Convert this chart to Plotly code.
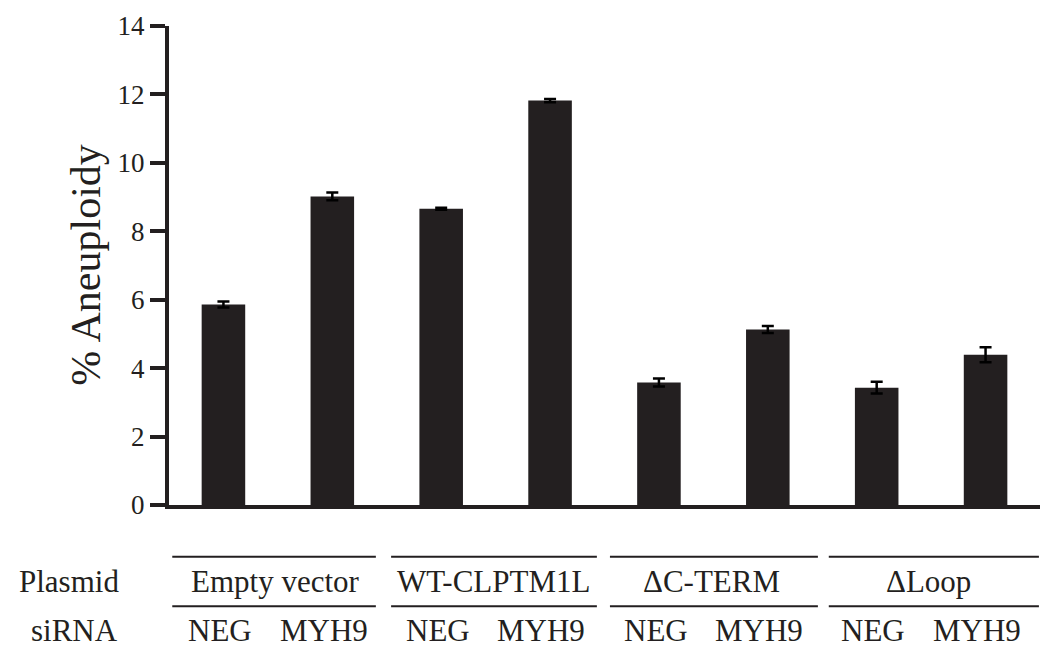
import plotly.graph_objects as go

plasmids = ["Empty vector", "WT-CLPTM1L", "\u0394C-TERM", "\u0394Loop"]
sirnas = ["NEG", "MYH9"]
categories = [f"{p} | {s}" for p in plasmids for s in sirnas]
values = [5.86, 9.02, 8.66, 11.82, 3.58, 5.13, 3.43, 4.39]
errors = [0.09, 0.11, 0.03, 0.05, 0.12, 0.10, 0.17, 0.22]
y_ticks = [0, 2, 4, 6, 8, 10, 12, 14]

DARK = "#231f20"
FONT = "Liberation Serif, Times New Roman, serif"
N = len(categories)
YMAX = 14.0


def px(xd):
    """data x -> paper x"""
    return (xd + 0.5) / N


def py(yd):
    """data y -> paper y"""
    return yd / YMAX


def label(x, y, text, size, **kw):
    return dict(x=px(x), y=py(y), xref="paper", yref="paper", text=text,
                showarrow=False, xanchor="center", yanchor="middle",
                font=dict(family=FONT, size=size, color=DARK), **kw)


fig = go.Figure()
fig.add_trace(go.Bar(
    x=list(range(N)),
    y=values,
    width=0.40,
    marker=dict(color=DARK, line=dict(width=0)),
    error_y=dict(type="data", array=errors, visible=True,
                 color="#000000", thickness=2.5, width=6),
    hovertext=categories,
))

annotations = []
shapes = []
annotations.append(label(-1.27, 7.0, "% Aneuploidy", 42, textangle=-90))
annotations.append(label(-1.42, -2.23, "Plasmid", 31))
annotations.append(label(-1.37, -3.66, "siRNA", 31))
for g, p in enumerate(plasmids):
    x0 = 2 * g - 0.47 + 0.01 * g
    x1 = 2 * g + 1.40 + 0.03 * g
    for yl in (-1.51, -2.96):
        shapes.append(dict(type="line", xref="paper", yref="paper",
                           x0=px(x0), x1=px(x1), y0=py(yl), y1=py(yl),
                           line=dict(color=DARK, width=2)))
    annotations.append(label(2 * g + 0.48, -2.23, p, 31))
    for k, s in enumerate(sirnas):
        annotations.append(label(2 * g + k - 0.03 - (0.05 if k else 0), -3.66, s, 31))

fig.update_layout(
    width=1051, height=653,
    margin=dict(l=169, r=11, t=22, b=148),
    plot_bgcolor="white", paper_bgcolor="white",
    showlegend=False,
    xaxis=dict(range=[-0.5, N - 0.5], showticklabels=False, ticks="",
               showline=True, linecolor=DARK, linewidth=4,
               showgrid=False, zeroline=False, fixedrange=True),
    yaxis=dict(range=[0, YMAX], tickvals=y_ticks, ticktext=[str(v) for v in y_ticks],
               ticks="outside", ticklen=15, tickwidth=4, tickcolor=DARK,
               showline=True, linecolor=DARK, linewidth=4,
               showgrid=False, zeroline=False,
               tickfont=dict(family=FONT, size=27, color=DARK)),
    annotations=annotations,
    shapes=shapes,
)

fig.write_html("out.html")
